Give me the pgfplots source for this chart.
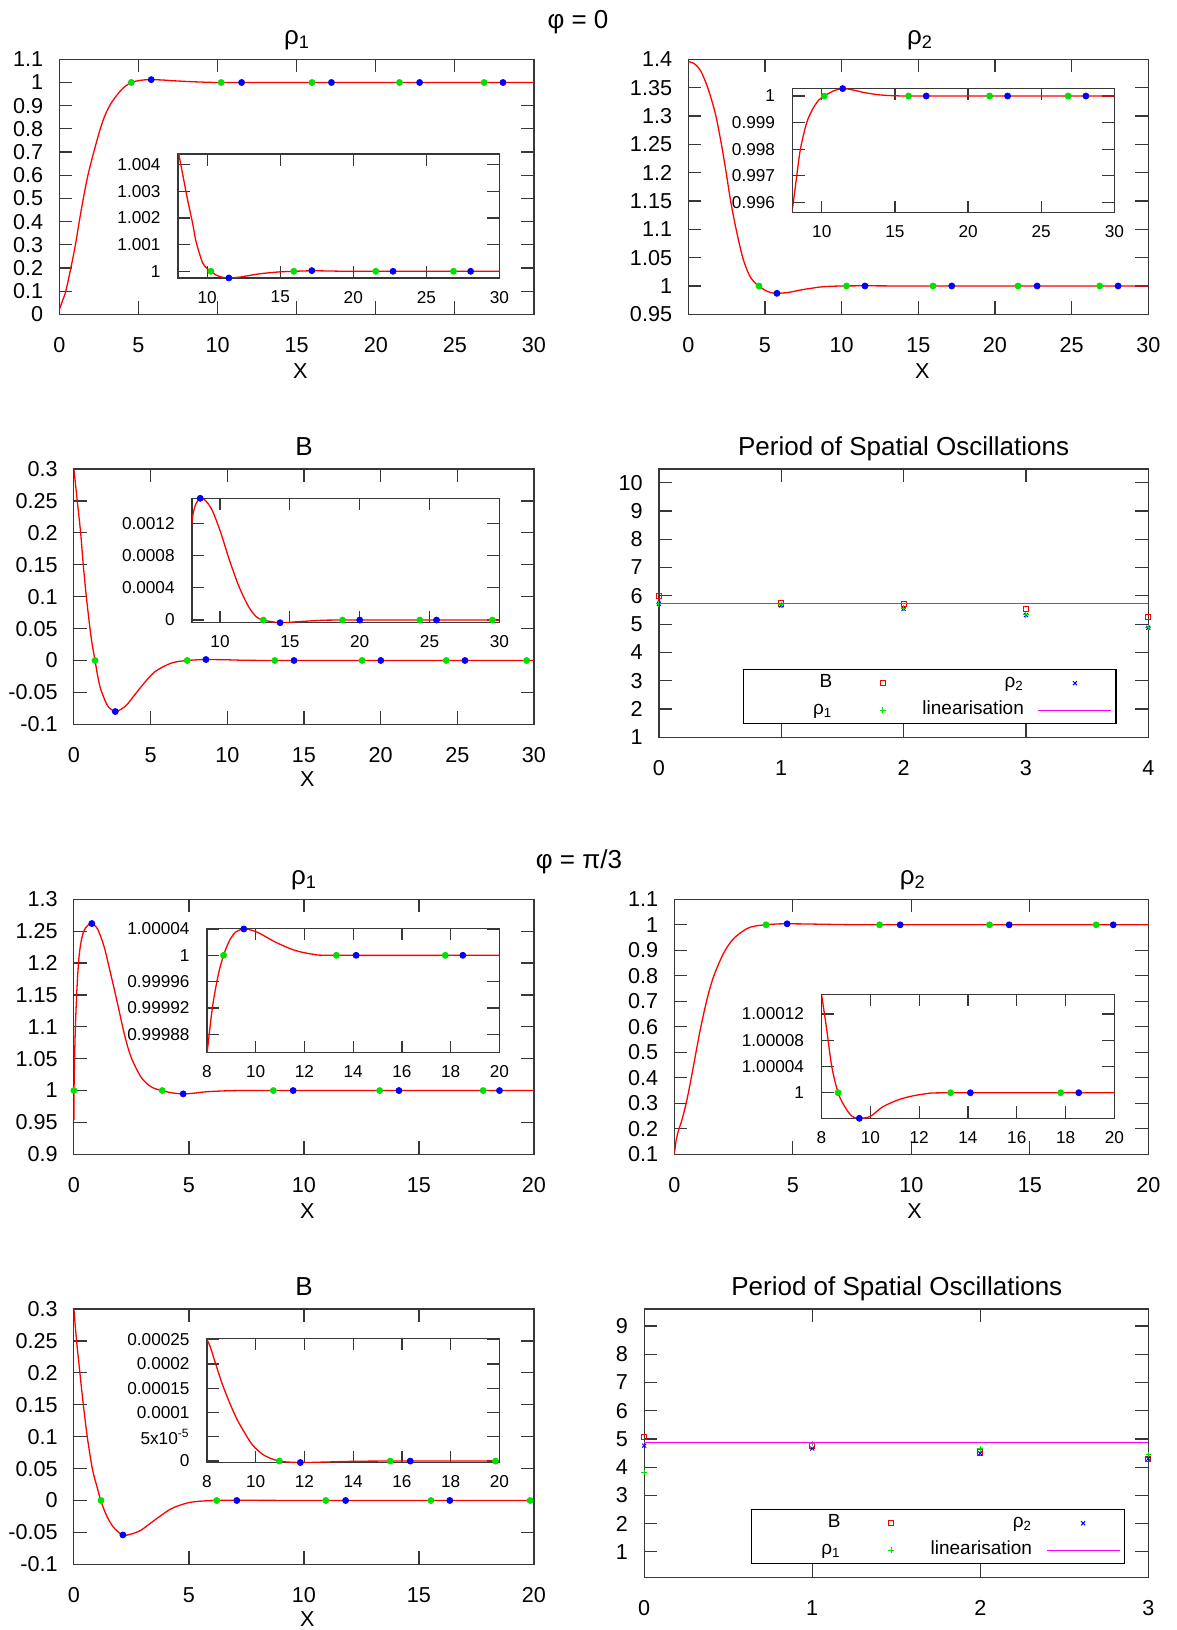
\documentclass[border=0pt]{standalone}
\usepackage{fontspec}
\setmainfont{Liberation Sans}
\usepackage{pgfplots}
\usepackage{pgfplotstable}
\pgfplotsset{compat=1.18}

\definecolor{gpred}{RGB}{255,0,0}
\definecolor{gpgreen}{RGB}{0,225,0}
\definecolor{gpblue}{RGB}{0,0,255}
\definecolor{gpmagenta}{RGB}{255,0,255}
\definecolor{gpframe}{RGB}{55,55,55}

% ---- phi = 0 profiles ----
\pgfplotstableread{
x y
0 0.02
0.2 0.058
0.41 0.1
0.73 0.2
1.02 0.3
1.26 0.4
1.52 0.5
1.81 0.6
2.18 0.7
2.59 0.8
2.9 0.86
3.27 0.91
3.75 0.955
4.15 0.983
4.55 1.0
5.0 1.008
5.4 1.0113
5.81 1.0123
6.5 1.0108
7.2 1.0075
8.0 1.0046
8.3 1.0037
8.65 1.0027
9.0 1.0018
9.2 1.0012
9.45 1.0007
9.7 1.0003
10.0 1.0001
10.25 1.0
10.6 0.99986
10.9 0.9998
11.2 0.99976
11.5 0.99975
12.2 0.99978
12.85 0.99984
13.5 0.9999
14.15 0.99994
15.0 0.99998
15.9 1.0
17.2 1.00002
18.5 1.00001
20 1.0
25 1.0
30 1.0
}\rhoAzero

\pgfplotstableread{
x y
0 1.396
0.4 1.392
0.8 1.38
1.2 1.355
1.5 1.33
1.8 1.3
2.16 1.25
2.47 1.2
2.76 1.15
3.12 1.1
3.55 1.05
3.96 1.02
4.3 1.007
4.61 1.0
5.0 0.9925
5.4 0.9882
5.78 0.987
6.5 0.9885
7.2 0.9922
7.6 0.9942
8.0 0.99577
8.29 0.997
8.54 0.998
8.97 0.999
9.4 0.99953
9.8 0.99985
10.17 1.0
10.8 1.00019
11.43 1.00028
12.2 1.00022
12.94 1.000125
14.0 1.00004
14.97 1.00001
16 1.0
20 1.0
30 1.0
}\rhoBzero

\pgfplotstableread{
x y
0 0.3
0.22 0.25
0.44 0.2
0.61 0.15
0.81 0.1
1.05 0.05
1.2 0.024
1.38 0.0
1.55 -0.024
1.75 -0.045
2.2 -0.071
2.7 -0.08
3.1 -0.076
3.5 -0.068
4.39 -0.041
5.26 -0.018
6.36 -0.004
7.39 0.0
8.58 0.0015
10.0 0.0011
13.1 0.0
30 0.0
}\Bzero

% inset values stored as B x 1e4
\pgfplotstableread{
x y
7.39 0.0
8.0 12.4
8.58 15.1
9.32 14.0
10.0 11.1
10.68 7.4
11.37 4.1
12.05 1.65
12.6 0.4
13.1 0.0
14.3 -0.33
15.6 -0.2
17 -0.06
18.77 0.0
30 0.0
}\Bzerozoom

% ---- phi = pi/3 profiles ----
\pgfplotstableread{
x y
0 0.9536
0.005 1.0
0.03 1.05
0.07 1.105
0.14 1.165
0.22 1.209
0.32 1.235
0.44 1.251
0.6 1.259
0.77 1.2615
1.02 1.254
1.31 1.226
1.6 1.183
1.9 1.136
2.19 1.089
2.48 1.053
2.92 1.021
3.35 1.006
3.82 1.0
4.3 0.9962
4.74 0.9948
5.2 0.9958
5.69 0.9979
6.4 0.9993
7.14 1.0
8 1.0
20 1.0
}\rhoAthird

% inset values stored as (rho1 - 1) x 1e5
\pgfplotstableread{
x y
8 -15
8.22 -8
8.46 -3
8.68 0
8.93 2.3
9.2 3.6
9.51 4.0
9.85 3.8
10.18 3.3
10.81 2.0
11.6 0.76
12.38 0.15
13.31 0
20 0
}\rhoAthirdzoom

\pgfplotstableread{
x y
0 0.1
0.04 0.13
0.08 0.156
0.18 0.195
0.32 0.234
0.5 0.3
0.67 0.377
0.88 0.482
1.09 0.586
1.37 0.704
1.65 0.795
2.07 0.887
2.49 0.945
3.04 0.984
3.4 0.995
3.85 1.0
4.3 1.0032
4.75 1.004
5.5 1.0034
6.5 1.0018
7.5 1.0005
8.68 1.0
20 1.0
}\rhoBthird

% inset values stored as (rho2 - 1) x 1e5
\pgfplotstableread{
x y
8 15
8.2 10
8.42 4
8.68 0
8.95 -2.1
9.25 -3.6
9.55 -3.9
10.0 -3.6
10.53 -2.1
11.29 -0.9
12.19 -0.2
13.29 0
20 0
}\rhoBthirdzoom

\pgfplotstableread{
x y
0 0.3
0.117 0.25
0.26 0.2
0.41 0.15
0.58 0.1
0.8 0.05
1.0 0.022
1.17 0.0
1.4 -0.022
1.7 -0.041
2.11 -0.054
2.5 -0.0525
2.92 -0.0464
3.5 -0.031
4.23 -0.013
4.96 -0.0036
5.6 -0.0008
6.2 0.0
7.07 0.0003
10.97 0.0
20 0.0
}\Bthird

% inset values stored as B x 1e5
\pgfplotstableread{
x y
6.2 0.0
7.07 32
8.0 25
8.3 20.9
8.61 16.1
8.93 12.0
9.24 8.5
9.55 5.8
9.87 3.3
10.34 1.2
10.97 0.0
11.83 -0.3
12.85 -0.2
14 -0.05
15.52 0.0
20 0.0
}\Bthirdzoom

\pgfplotsset{
  gpbase/.style={
    scale only axis, anchor=north west,
    axis line style={gpframe, line width=0.6pt},
    tick style={gpframe, line width=0.6pt},
    tick align=inside, tick pos=both,
    clip mode=individual,
    /pgf/number format/fixed,
    /pgf/number format/precision=3,
    /pgf/number format/assume math mode=true,
  },
  main/.style={gpbase, major tick length=6.5pt,
    ticklabel style={font=\fontsize{10.8}{12}\selectfont},
    xticklabel style={yshift=-8.2pt},
    yticklabel style={xshift=-4.6pt}},
  inset/.style={gpbase, major tick length=6pt,
    ticklabel style={font=\fontsize{8.6}{10}\selectfont},
    xticklabel style={yshift=-3pt},
    yticklabel style={xshift=-5.2pt}},
  prof/.style={gpred, line width=0.65pt, smooth, no markers},
  gdot/.style={gpgreen, only marks, mark=*, mark size=1.5pt},
  bdot/.style={gpblue, only marks, mark=*, mark size=1.5pt},
  period/.style={main,
    legend columns=2,
    legend cell align=right,
    legend plot pos=right,
    legend image code/.code={\path[draw=none,fill=none] (0pt,0pt) (36.5pt,0pt);
      \draw[mark repeat=2,mark phase=2,##1]
      plot coordinates {(0pt,0pt) (18.25pt,0pt) (36.5pt,0pt)};},
    legend style={anchor=south west, draw=black, line width=0.6pt,
      font=\fontsize{9.5}{11}\selectfont,
      inner xsep=2pt, inner ysep=0.5pt, row sep=1pt,
      nodes={inner xsep=1pt, inner ysep=1.5pt, text height=7pt,
        text depth=2.5pt, line width=0.4pt},
      /tikz/every odd column/.append style={column sep=6pt},
      /tikz/every even column/.append style={column sep=0.25pt}},
  },
  Bsq/.style={gpred, only marks, mark=square, mark size=1.3pt, mark options={line width=0.5pt}},
  rtwo/.style={gpblue, only marks, mark=x, mark size=1.4pt, mark options={line width=0.5pt}},
  rone/.style={gpgreen, only marks, mark=+, mark size=1.4pt, mark options={line width=0.5pt}},
  lin/.style={gpmagenta, line width=0.6pt, no markers},
}
% key texts are right-aligned in fixed boxes, one width for each key column
\newcommand{\keyA}[1]{\makebox[41.5pt][r]{#1}}
\newcommand{\keyB}[1]{\makebox[51pt][r]{#1}}

\begin{document}
\begin{tikzpicture}
\useasboundingbox (0,0) rectangle (588.5pt,-815pt);

% ===================== phi = 0 =====================
\begin{axis}[main, at={(29.65pt,-29.65pt)}, width=237.35pt, height=127.5pt,
  xmin=0, xmax=30, ymin=0, ymax=1.1,
  xtick={0,5,...,30}, ytick={0,0.1,0.2,0.3,0.4,0.5,0.6,0.7,0.8,0.9,1,1.1}]
\addplot[prof] table {\rhoAzero};
\addplot[gdot] coordinates {(4.55,1) (10.23,1) (15.97,1) (21.5,1) (26.85,1)};
\addplot[bdot] coordinates {(5.81,1.0123) (11.52,1) (17.2,1) (22.77,1) (28.04,1)};
\end{axis}

\begin{axis}[inset, at={(89pt,-77.15pt)}, width=160.7pt, height=62pt,
  xmin=8, xmax=30, ymin=0.99975, ymax=1.0044,
  xtick={10,15,...,30}, ytick={1,1.001,1.002,1.003,1.004},
  yticklabels={1,1.001,1.002,1.003,1.004}]
\addplot[prof] table {\rhoAzero};
\addplot[gdot] coordinates {(10.25,1) (15.93,1) (21.54,1) (26.86,1)};
\addplot[bdot] coordinates {(11.48,0.99975) (17.16,1.000025) (22.72,1) (28.03,1)};
\end{axis}

\begin{axis}[main, at={(344.15pt,-29.65pt)}, width=230pt, height=127.5pt,
  xmin=0, xmax=30, ymin=0.95, ymax=1.4,
  xtick={0,5,...,30}, ytick={0.95,1,1.05,1.1,1.15,1.2,1.25,1.3,1.35,1.4}]
\addplot[prof] table {\rhoBzero};
\addplot[gdot] coordinates {(4.61,1) (10.32,1) (15.96,1) (21.5,1) (26.83,1)};
\addplot[bdot] coordinates {(5.78,0.987) (11.52,1) (17.18,1) (22.75,1) (28.03,1)};
\end{axis}

\begin{axis}[inset, at={(396.25pt,-44.15pt)}, width=160.95pt, height=62.2pt,
  xmin=8, xmax=30, ymin=0.99561, ymax=1.00029,
  xtick={10,15,...,30}, ytick={0.996,0.997,0.998,0.999,1},
  yticklabels={0.996,0.997,0.998,0.999,1}]
\addplot[prof] table {\rhoBzero};
\addplot[gdot] coordinates {(10.17,1) (15.93,1) (21.47,1) (26.84,1)};
\addplot[bdot] coordinates {(11.43,1.00028) (17.14,1) (22.7,1) (28.05,1)};
\end{axis}

\begin{axis}[main, at={(36.95pt,-234.5pt)}, width=230.05pt, height=127.65pt,
  xmin=0, xmax=30, ymin=-0.1, ymax=0.3,
  xtick={0,5,...,30}, ytick={-0.1,-0.05,0,0.05,0.1,0.15,0.2,0.25,0.3}]
\addplot[prof] table {\Bzero};
\addplot[gdot] coordinates {(1.38,0) (7.39,0) (13.1,0) (18.79,0) (24.28,0) (29.52,0)};
\addplot[bdot] coordinates {(2.7,-0.08) (8.61,0.0015) (14.35,0) (20.01,0) (25.5,0)};
\end{axis}

\begin{axis}[inset, at={(96.05pt,-249.15pt)}, width=153.65pt, height=62.2pt,
  xmin=8, xmax=30, ymin=-0.33, ymax=15.1,
  xtick={10,15,...,30}, ytick={0,4,8,12},
  yticklabels={0,0.0004,0.0008,0.0012}]
\addplot[prof] table {\Bzerozoom};
\addplot[gdot] coordinates {(13.1,0) (18.77,0) (24.3,0) (29.5,0)};
\addplot[bdot] coordinates {(8.58,15.1) (14.3,-0.33) (20.0,0) (25.5,0)};
\end{axis}

\begin{axis}[period, at={(329.45pt,-234.5pt)}, width=244.7pt, height=134.15pt,
  xmin=0, xmax=4, ymin=1, ymax=10.48,
  xtick={0,1,2,3,4}, ytick={1,2,...,10},
  legend style={at={(0.1714,0.0485)}}]
\addplot[Bsq] coordinates {(0,6.0) (1,5.73) (2,5.7) (3,5.53) (4,5.25)};
\addlegendentry{\keyA{B}}
\addplot[rtwo] coordinates {(0,5.72) (1,5.66) (2,5.54) (3,5.32) (4,4.87)};
\addlegendentry{\keyB{ρ\textsubscript{2}}}
\addplot[rone] coordinates {(0,5.72) (1,5.68) (2,5.56) (3,5.33) (4,4.88)};
\addlegendentry{\keyA{ρ\textsubscript{1}}}
\addplot[lin] coordinates {(0,5.74) (4,5.74)};
\addlegendentry{\keyB{linearisation}}
\end{axis}

% ===================== phi = pi/3 =====================
\begin{axis}[main, at={(36.95pt,-449.65pt)}, width=230.05pt, height=127.5pt,
  xmin=0, xmax=20, ymin=0.9, ymax=1.3,
  xtick={0,5,...,20}, ytick={0.9,0.95,1,1.05,1.1,1.15,1.2,1.25,1.3}]
\addplot[prof] table {\rhoAthird};
\addplot[gdot] coordinates {(0,1) (3.84,1) (8.67,1) (13.29,1) (17.79,1)};
\addplot[bdot] coordinates {(0.78,1.262) (4.75,0.9948) (9.53,1) (14.13,1) (18.5,1)};
\end{axis}

\begin{axis}[inset, at={(103.5pt,-464.15pt)}, width=146.2pt, height=62.2pt,
  xmin=8, xmax=20, ymin=-14.8, ymax=4.1,
  xtick={8,10,...,20}, ytick={-12,-8,-4,0,4},
  yticklabels={0.99988,0.99992,0.99996,1,1.00004}]
\addplot[prof] table {\rhoAthirdzoom};
\addplot[gdot] coordinates {(8.68,0) (13.31,0) (17.78,0)};
\addplot[bdot] coordinates {(9.51,4.0) (14.12,0) (18.5,0)};
\end{axis}

\begin{axis}[main, at={(337.15pt,-449.65pt)}, width=237pt, height=127.5pt,
  xmin=0, xmax=20, ymin=0.1, ymax=1.1,
  xtick={0,5,...,20}, ytick={0.1,0.2,0.3,0.4,0.5,0.6,0.7,0.8,0.9,1,1.1}]
\addplot[prof] table {\rhoBthird};
\addplot[gdot] coordinates {(3.87,1) (8.66,1) (13.3,1) (17.8,1)};
\addplot[bdot] coordinates {(4.76,1.004) (9.53,1) (14.13,1) (18.52,1)};
\end{axis}

\begin{axis}[inset, at={(410.75pt,-497.15pt)}, width=146.45pt, height=62pt,
  xmin=8, xmax=20, ymin=-3.9, ymax=15,
  xtick={8,10,...,20}, ytick={0,4,8,12},
  yticklabels={1,1.00004,1.00008,1.00012}]
\addplot[prof] table {\rhoBthirdzoom};
\addplot[gdot] coordinates {(8.68,0) (13.29,0) (17.8,0)};
\addplot[bdot] coordinates {(9.55,-3.9) (14.1,0) (18.54,0)};
\end{axis}

\begin{axis}[main, at={(36.95pt,-654.5pt)}, width=230.05pt, height=127.65pt,
  xmin=0, xmax=20, ymin=-0.1, ymax=0.3,
  xtick={0,5,...,20}, ytick={-0.1,-0.05,0,0.05,0.1,0.15,0.2,0.25,0.3}]
\addplot[prof] table {\Bthird};
\addplot[gdot] coordinates {(1.18,0) (6.21,0) (10.95,0) (15.52,0) (19.83,0)};
\addplot[bdot] coordinates {(2.13,-0.054) (7.08,0) (11.81,0) (16.34,0)};
\end{axis}

\begin{axis}[inset, at={(103.5pt,-669.15pt)}, width=146.2pt, height=62.2pt,
  xmin=8, xmax=20, ymin=-0.34, ymax=25.3,
  xtick={8,10,...,20}, ytick={0,5,10,15,20,25},
  yticklabels={0,5x10\textsuperscript{-5},0.0001,0.00015,0.0002,0.00025}]
\addplot[prof] table {\Bthirdzoom};
\addplot[gdot] coordinates {(10.97,0) (15.52,0) (19.84,0)};
\addplot[bdot] coordinates {(11.83,-0.3) (16.34,0)};
\end{axis}

\begin{axis}[period, at={(322.1pt,-654.5pt)}, width=252.05pt, height=134.15pt,
  xmin=0, xmax=3, ymin=0.1, ymax=9.6,
  xtick={0,1,2,3}, ytick={1,2,...,9},
  legend style={at={(0.2117,0.0485)}}]
\addplot[Bsq] coordinates {(0,5.06) (1,4.75) (2,4.52) (3,4.3)};
\addlegendentry{\keyA{B}}
\addplot[rtwo] coordinates {(0,4.76) (1,4.66) (2,4.49) (3,4.3)};
\addlegendentry{\keyB{ρ\textsubscript{2}}}
\addplot[rone] coordinates {(0,3.81) (1,4.84) (2,4.65) (3,4.45)};
\addlegendentry{\keyA{ρ\textsubscript{1}}}
\addplot[lin] coordinates {(0,4.86) (3,4.86)};
\addlegendentry{\keyB{linearisation}}
\end{axis}

% ---- headings, titles and axis labels ----
\begin{scope}[every node/.style={anchor=base, inner sep=0pt}]
\node[font=\fontsize{13}{15}\selectfont] at (289pt,-14.2pt) {φ = 0};
\node[font=\fontsize{13}{15}\selectfont] at (289.5pt,-434pt) {φ = π/3};
\node[font=\fontsize{13}{15}\selectfont] at (148.5pt,-22pt) {ρ\textsubscript{1}};
\node[font=\fontsize{13}{15}\selectfont] at (460pt,-22pt) {ρ\textsubscript{2}};
\node[font=\fontsize{13}{15}\selectfont] at (152pt,-227.5pt) {B};
\node[font=\fontsize{13}{15}\selectfont] at (451.8pt,-227.5pt) {Period of Spatial Oscillations};
\node[font=\fontsize{13}{15}\selectfont] at (152pt,-442.2pt) {ρ\textsubscript{1}};
\node[font=\fontsize{13}{15}\selectfont] at (456.4pt,-442.2pt) {ρ\textsubscript{2}};
\node[font=\fontsize{13}{15}\selectfont] at (152pt,-647.5pt) {B};
\node[font=\fontsize{13}{15}\selectfont] at (448.4pt,-647.5pt) {Period of Spatial Oscillations};
\node[font=\fontsize{10.8}{12}\selectfont] at (150.2pt,-189.2pt) {X};
\node[font=\fontsize{10.8}{12}\selectfont] at (461.2pt,-189.2pt) {X};
\node[font=\fontsize{10.8}{12}\selectfont] at (153.7pt,-393.3pt) {X};
\node[font=\fontsize{10.8}{12}\selectfont] at (153.7pt,-609.2pt) {X};
\node[font=\fontsize{10.8}{12}\selectfont] at (457.3pt,-609.2pt) {X};
\node[font=\fontsize{10.8}{12}\selectfont] at (153.7pt,-813.3pt) {X};
\end{scope}
\end{tikzpicture}
\end{document}
